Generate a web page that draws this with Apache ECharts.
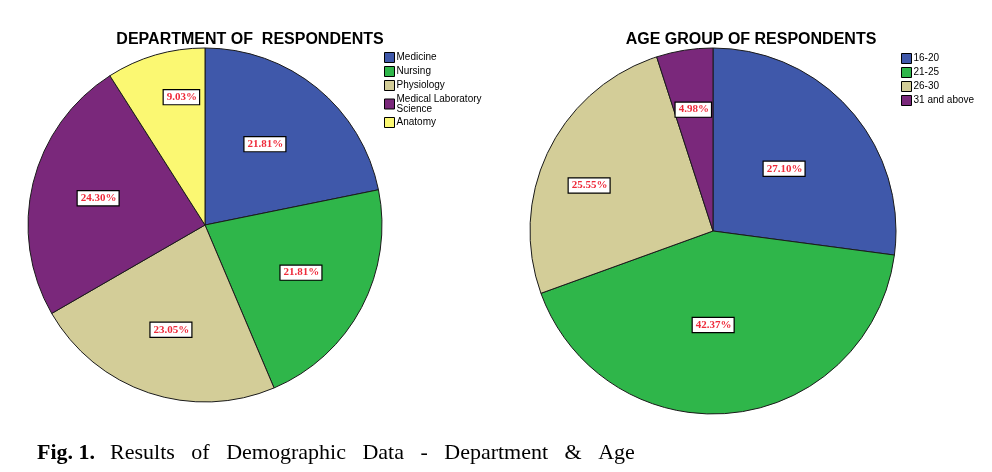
<!DOCTYPE html>
<html>
<head>
<meta charset="utf-8">
<script src="https://cdn.jsdelivr.net/npm/echarts@6/dist/echarts.min.js"></script>
<style>html,body{margin:0;padding:0;background:#fff}#c{width:992px;height:472px}</style>
</head>
<body>
<div id="c"></div>
<script>
const deptNames = ['Medicine', 'Nursing', 'Physiology', 'Medical Laboratory Science', 'Anatomy'];
const deptValues = [21.81, 21.81, 23.05, 24.30, 9.03];
const deptColors = ['#3F58AA', '#2FB64A', '#D3CD98', '#7A287B', '#FBF872'];
const deptLabelOffsets = [[2, -10], [15, 5], [-5, 18], [-18, -5], [2, -40]];

const ageNames = ['16-20', '21-25', '26-30', '31 and above'];
const ageValues = [27.10, 42.37, 25.55, 4.98];
const ageColors = ['#3F58AA', '#2FB64A', '#D3CD98', '#7A287B'];
const ageLabelOffsets = [[0, 0], [-10, 0], [-39, -4], [-5, -28]];

const chart = echarts.init(document.getElementById('c'), null, {renderer: 'canvas'});

function buildData(names, values, colors, offsets) {
  return names.map((n, i) => ({
    name: n,
    value: values[i],
    itemStyle: {color: colors[i]},
    label: {offset: offsets[i]}
  }));
}

const labelStyle = {
  show: true,
  position: 'inside',
  formatter: p => p.value.toFixed(2) + '%',
  color: '#EE2A3A',
  fontFamily: 'Liberation Serif',
  fontWeight: 'bold',
  fontSize: 11,
  backgroundColor: '#fff',
  borderColor: '#000',
  borderWidth: 1.2,
  padding: [2, 2, 1, 3]
};

const legendCommon = {
  orient: 'vertical',
  icon: 'rect',
  itemWidth: 10,
  itemHeight: 10,
  itemGap: 3,
  selectedMode: false,
  itemStyle: {borderColor: '#000', borderWidth: 1},
  textStyle: {fontFamily: 'Liberation Sans', fontSize: 10, color: '#000', padding: [0, 0, 0, -3], lineHeight: 10}
};

chart.setOption({
  animation: false,
  title: [
    {text: 'DEPARTMENT OF  RESPONDENTS', left: 245, top: 27, textAlign: 'center',
     textStyle: {fontFamily: 'Liberation Sans', fontWeight: 'bold', fontSize: 16, color: '#000'}},
    {text: 'AGE GROUP OF RESPONDENTS', left: 746, top: 27, textAlign: 'center',
     textStyle: {fontFamily: 'Liberation Sans', fontWeight: 'bold', fontSize: 16, color: '#000'}},
    {text: '{b|Fig. 1.}   {n|Results   of   Demographic   Data   -   Department   &   Age}', left: 32, top: 437,
     textStyle: {fontWeight: 'normal', rich: {
       b: {fontFamily: 'Liberation Serif', fontWeight: 'bold', fontSize: 22, color: '#000'},
       n: {fontFamily: 'Liberation Serif', fontWeight: 'normal', fontSize: 22, color: '#000'}
     }}}
  ],
  legend: [
    Object.assign({}, legendCommon, {
      left: 379, top: 47,
      data: deptNames,
      formatter: n => n === 'Medical Laboratory Science' ? 'Medical Laboratory\nScience' : n
    }),
    Object.assign({}, legendCommon, {
      left: 896, top: 48,
      data: ageNames
    })
  ],
  series: [
    {
      type: 'pie',
      center: [205, 225],
      radius: 177,
      startAngle: 90,
      clockwise: true,
      silent: true,
      legendHoverLink: false,
      emphasis: {disabled: true},
      itemStyle: {borderColor: '#1a1a1a', borderWidth: 1},
      label: labelStyle,
      labelLine: {show: false},
      data: buildData(deptNames, deptValues, deptColors, deptLabelOffsets)
    },
    {
      type: 'pie',
      center: [713, 231],
      radius: 183,
      startAngle: 90,
      clockwise: true,
      silent: true,
      legendHoverLink: false,
      emphasis: {disabled: true},
      itemStyle: {borderColor: '#1a1a1a', borderWidth: 1},
      label: labelStyle,
      labelLine: {show: false},
      data: buildData(ageNames, ageValues, ageColors, ageLabelOffsets)
    }
  ]
});
</script>
</body>
</html>
